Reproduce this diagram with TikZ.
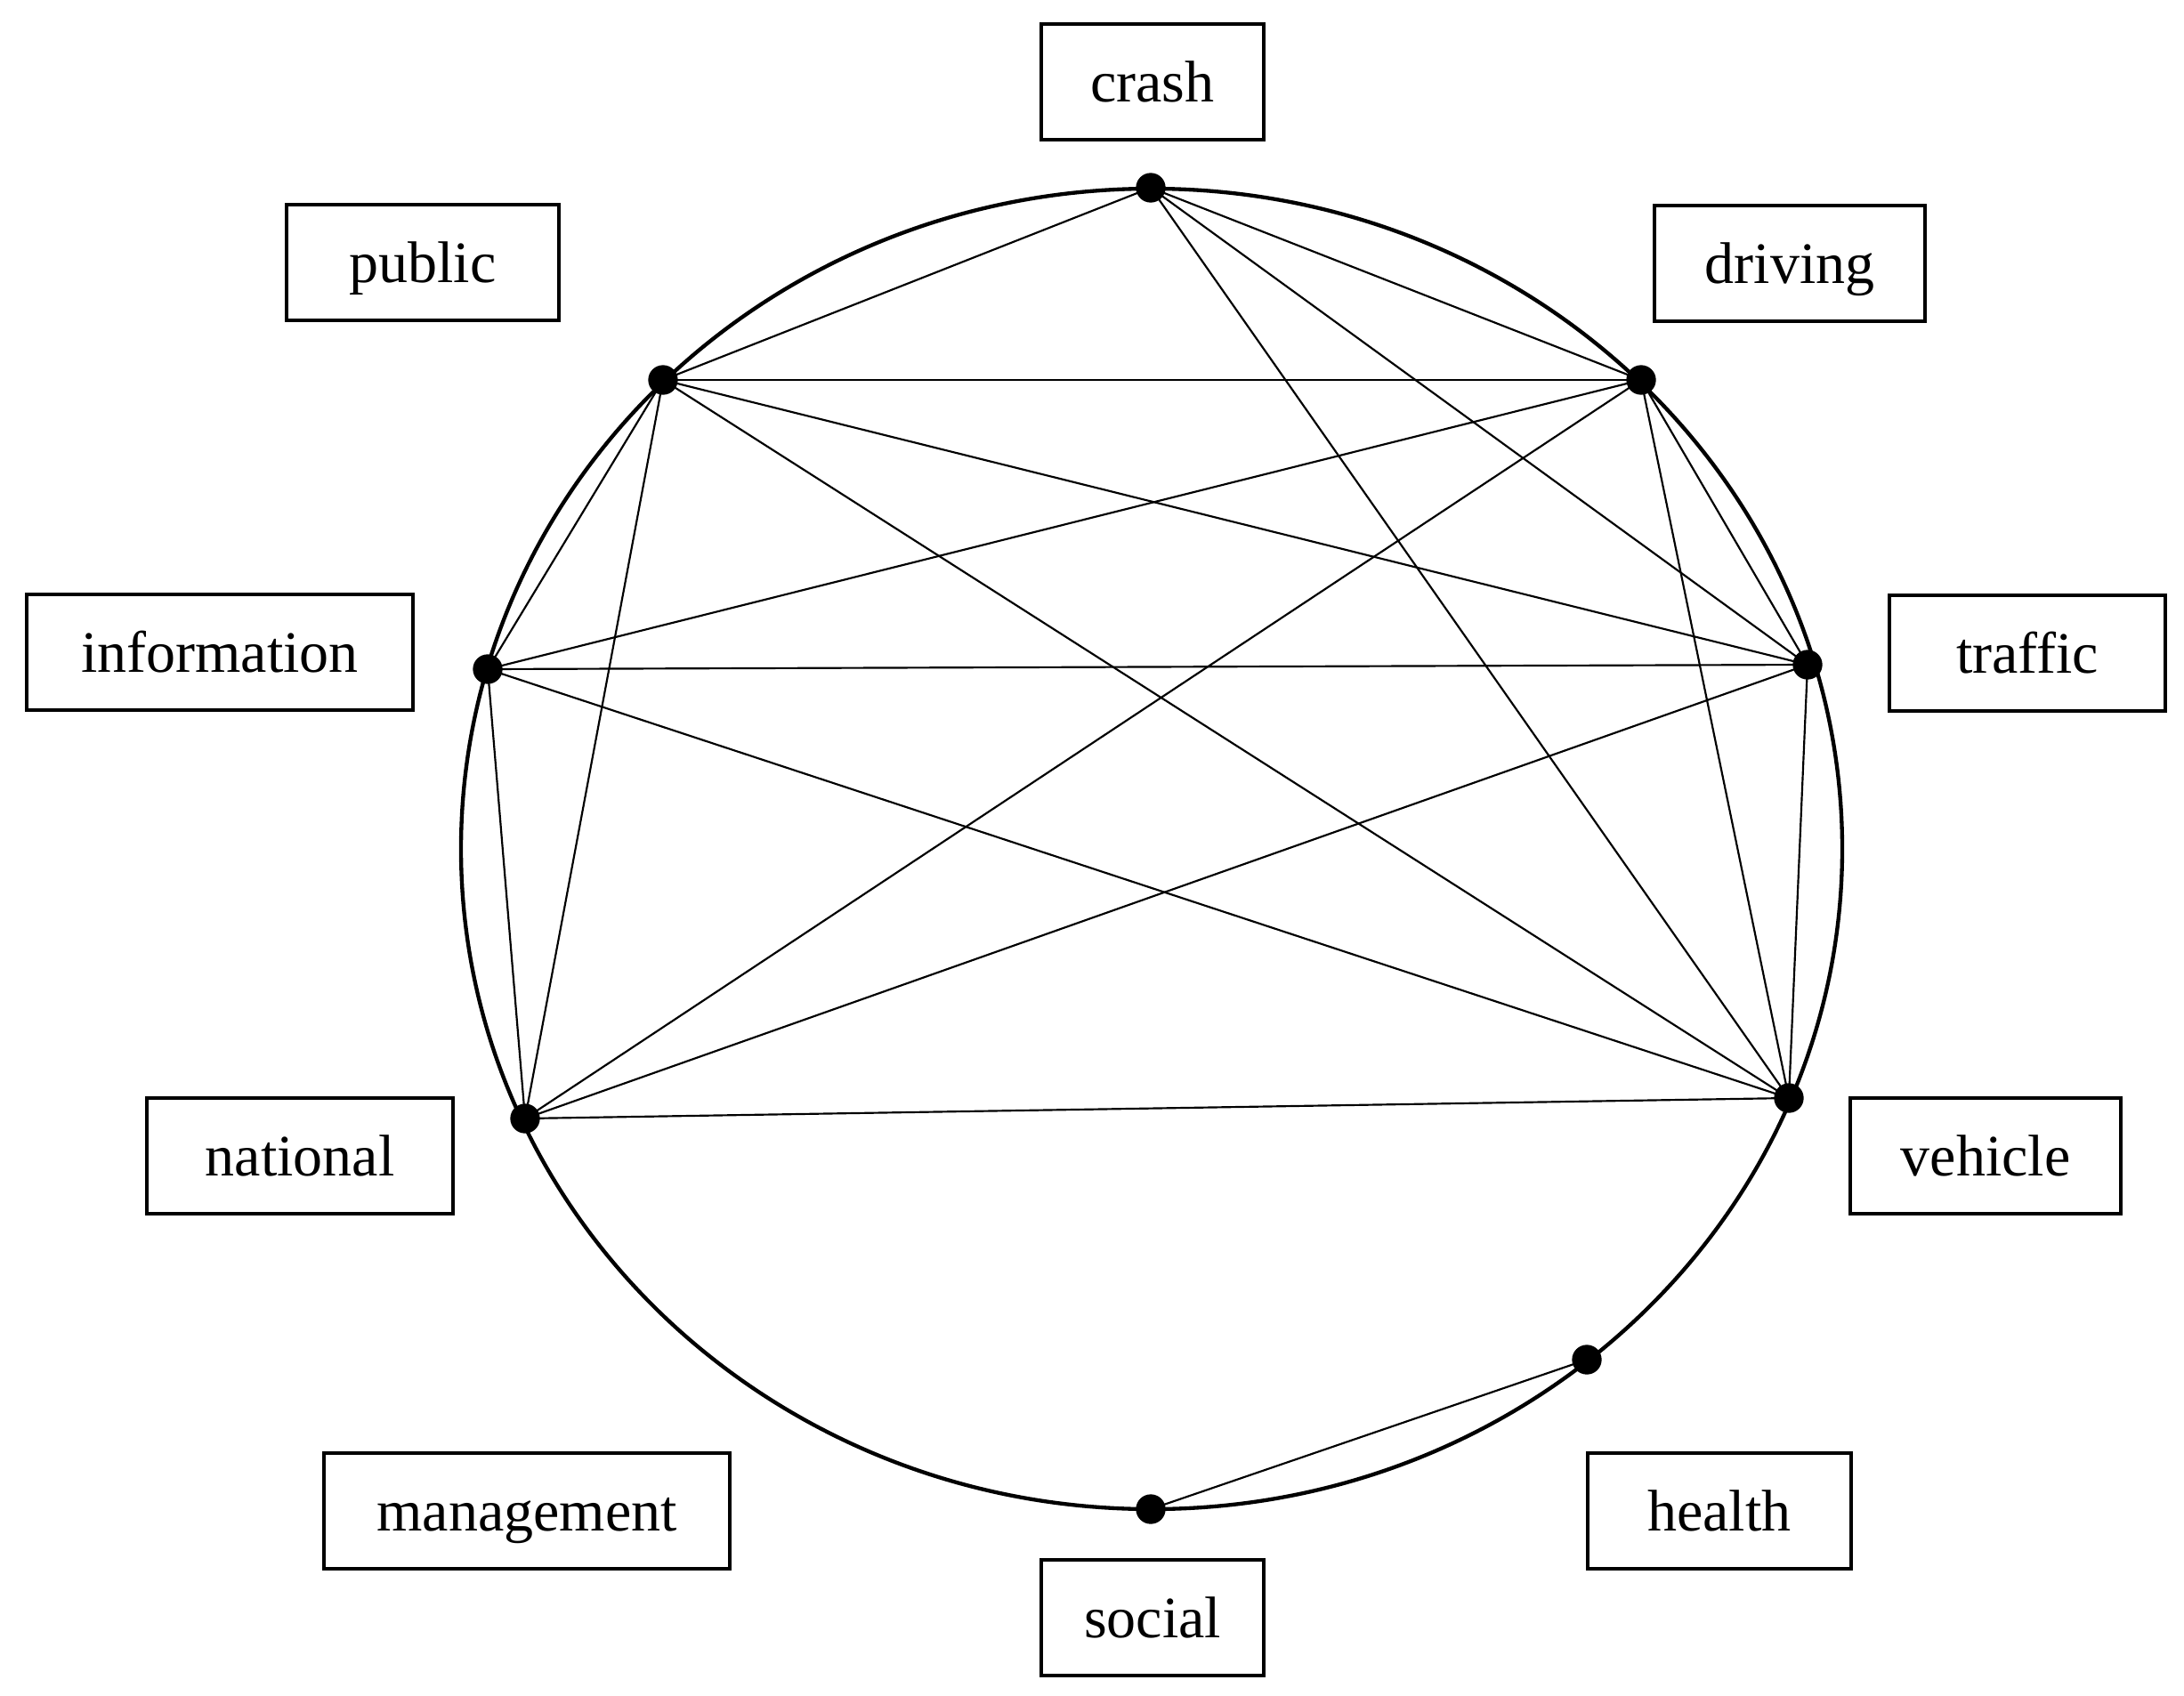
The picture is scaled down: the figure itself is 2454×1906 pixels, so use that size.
\documentclass[tikz,border=0pt]{standalone}
\usepackage{fontspec}
\setmainfont{Liberation Serif}
\begin{document}
\begin{tikzpicture}[x=0.3pt,y=-0.3pt,
  dot/.style={circle,fill=black,inner sep=0pt,minimum size=10pt},
  lbl/.style={draw=black,line width=1.2pt,inner sep=0pt,minimum height=39pt,text height=13.5pt,text depth=0pt,font=\fontsize{19.8pt}{22pt}\selectfont},
  edge/.style={line width=0.65pt}]
\useasboundingbox (0,0) rectangle (2454,1906);
\draw[line width=1.3pt] (1294,954) ellipse [x radius=232.8pt, y radius=222.6pt];
% dots
\node[dot] (crash) at (1293,211) {};
\node[dot] (public) at (745,427) {};
\node[dot] (driving) at (1844,427) {};
\node[dot] (information) at (548,752) {};
\node[dot] (traffic) at (2031,747) {};
\node[dot] (national) at (590,1257) {};
\node[dot] (vehicle) at (2010,1234) {};
\node[dot] (health) at (1783,1528) {};
\node[dot] (social) at (1293,1696) {};
% labels
\node[lbl,minimum width=75pt] (crashL) at (1295,92) {crash};
\node[lbl,minimum width=92pt] (publicL) at (475,295) {public};
\node[lbl,minimum width=91pt] (drivingL) at (2011,296) {driving};
\node[lbl,minimum width=130pt] (informationL) at (247,733) {information};
\node[lbl,minimum width=93pt] (trafficL) at (2278,734) {traffic};
\node[lbl,minimum width=103pt] (nationalL) at (337,1299) {national};
\node[lbl,minimum width=91pt] (vehicleL) at (2231,1299) {vehicle};
\node[lbl,minimum width=137pt] (managementL) at (592,1698) {management};
\node[lbl,minimum width=89pt] (healthL) at (1932,1698) {health};
\node[lbl,minimum width=75pt] (socialL) at (1295,1818) {social};
% edges
\foreach \a/\b in {crash/public,crash/driving,crash/traffic,crash/vehicle,
  public/driving,public/traffic,public/vehicle,public/information,public/national,
  driving/information,driving/national,driving/traffic,driving/vehicle,
  information/traffic,information/vehicle,information/national,
  national/traffic,national/vehicle,traffic/vehicle,health/social}
  \draw[edge] (\a.center) -- (\b.center);
\end{tikzpicture}
\end{document}
